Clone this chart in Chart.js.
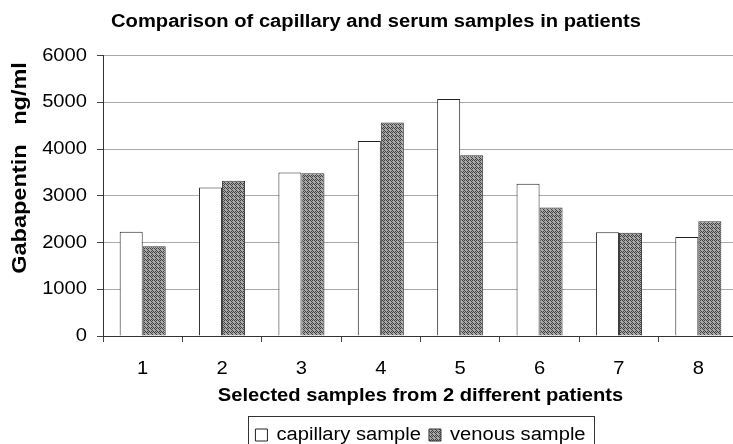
<!DOCTYPE html>
<html>
<head>
<meta charset="utf-8">
<script src="https://cdn.jsdelivr.net/npm/chart.js@4.4.0/dist/chart.umd.min.js"></script>
<style>
  html, body { margin: 0; padding: 0; background: #fff; overflow: hidden; }
</style>
</head>
<body>
<canvas id="chart" width="744" height="444"></canvas>
<script>
const samples = ['1', '2', '3', '4', '5', '6', '7', '8']
const capillary = [2230, 3180, 3500, 4170, 5070, 3260, 2220, 2120]
const venous = [1920, 3320, 3480, 4570, 3870, 2750, 2210, 2455]
const yMin = 0
const yMax = 6000
const yStep = 1000

const FONT = 'Arial, "Liberation Sans", sans-serif'
// the scanned original has its type a little wider than it is tall
const STRETCH = 1.12

function makePattern() {
  const c = document.createElement('canvas')
  c.width = 4
  c.height = 4
  const g = c.getContext('2d')
  g.fillStyle = '#a8a8a8'
  g.fillRect(0, 0, 4, 4)
  g.fillStyle = '#404040'
  ;[[0, 0], [2, 0], [1, 1], [3, 1], [0, 2], [2, 2], [1, 3], [3, 3]].forEach(([x, y], i) => {
    if (i % 3 !== 2) g.fillRect(x, y, 1, 1)
  })
  return g.createPattern(c, 'repeat')
}

const ctx = document.getElementById('chart').getContext('2d')
const dotted = makePattern()

// widen all text drawn on this canvas
const rawFill = ctx.fillText.bind(ctx)
const rawMeasure = ctx.measureText.bind(ctx)
ctx.fillText = (text, x, y) => {
  ctx.save()
  ctx.translate(x, y)
  ctx.scale(STRETCH, 1)
  rawFill(text, 0, 0)
  ctx.restore()
}
ctx.measureText = (text) => {
  const m = rawMeasure(text)
  return {
    width: m.width * STRETCH,
    actualBoundingBoxAscent: m.actualBoundingBoxAscent,
    actualBoundingBoxDescent: m.actualBoundingBoxDescent,
    actualBoundingBoxLeft: m.actualBoundingBoxLeft * STRETCH,
    actualBoundingBoxRight: m.actualBoundingBoxRight * STRETCH
  }
}

// box round the legend
const legendBorder = {
  id: 'legendBorder',
  afterDraw(chart) {
    const boxes = chart.legend.legendHitBoxes
    if (!boxes || !boxes.length) return
    const left = Math.min(...boxes.map((b) => b.left)) - 7
    const right = Math.max(...boxes.map((b) => b.left + b.width)) + 9
    const top = Math.min(...boxes.map((b) => b.top)) - 10
    const c = chart.ctx
    c.save()
    c.strokeStyle = '#333'
    c.lineWidth = 1
    c.strokeRect(Math.round(left) + 0.5, Math.round(top) + 0.5, Math.round(right - left), 60)
    c.restore()
  }
}

new Chart(ctx, {
  type: 'bar',
  data: {
    labels: samples,
    datasets: [{
      label: 'capillary sample',
      data: capillary,
      backgroundColor: '#ffffff',
      borderColor: '#222',
      borderWidth: 1
    }, {
      label: 'venous sample',
      data: venous,
      backgroundColor: dotted,
      borderColor: '#333',
      borderWidth: 1
    }]
  },
  options: {
    responsive: false,
    animation: false,
    layout: { padding: { left: 8, right: 0, top: 8, bottom: -10 } },
    datasets: {
      bar: { categoryPercentage: 0.58, barPercentage: 1.0 }
    },
    plugins: {
      title: {
        display: true,
        text: 'Comparison of capillary and serum samples in patients',
        color: '#000',
        font: { family: FONT, size: 18, weight: 'bold' },
        padding: { top: 3, bottom: 23 }
      },
      legend: {
        position: 'bottom',
        fullSize: false,
        labels: {
          color: '#000',
          font: { family: FONT, size: 18 },
          boxWidth: 12,
          boxHeight: 12,
          padding: 8
        }
      },
      tooltip: { enabled: false }
    },
    scales: {
      x: {
        grid: {
          offset: true,
          drawOnChartArea: false,
          tickLength: 6,
          tickColor: '#444'
        },
        border: { color: '#333', width: 1 },
        ticks: { color: '#000', font: { family: FONT, size: 18 }, padding: 16 },
        title: {
          display: true,
          text: 'Selected samples from 2 different patients',
          color: '#000',
          font: { family: FONT, size: 18, weight: 'bold' },
          padding: { top: 0, bottom: 11 }
        },
        afterFit(s) { s.height = 82 }
      },
      y: {
        min: yMin,
        max: yMax,
        ticks: {
          stepSize: yStep,
          color: '#000',
          font: { family: FONT, size: 18 },
          padding: 10,
          callback: (v) => String(v)
        },
        grid: { color: '#aaa', tickColor: '#444', tickLength: 6 },
        border: { color: '#333', width: 1 },
        title: {
          display: true,
          align: 'end',
          text: 'Gabapentin   ng/ml ',
          color: '#000',
          font: { family: FONT, size: 21, weight: 'bold' },
          padding: 0
        },
        afterFit(s) { s.width = 95 }
      },
      // empty strip on the right so the plot runs off the page edge like the original
      y2: {
        type: 'linear',
        position: 'right',
        display: true,
        grid: { display: false },
        border: { display: false },
        ticks: { display: false },
        afterFit(s) { s.width = 6 }
      }
    }
  },
  plugins: [legendBorder]
})
</script>
</body>
</html>
